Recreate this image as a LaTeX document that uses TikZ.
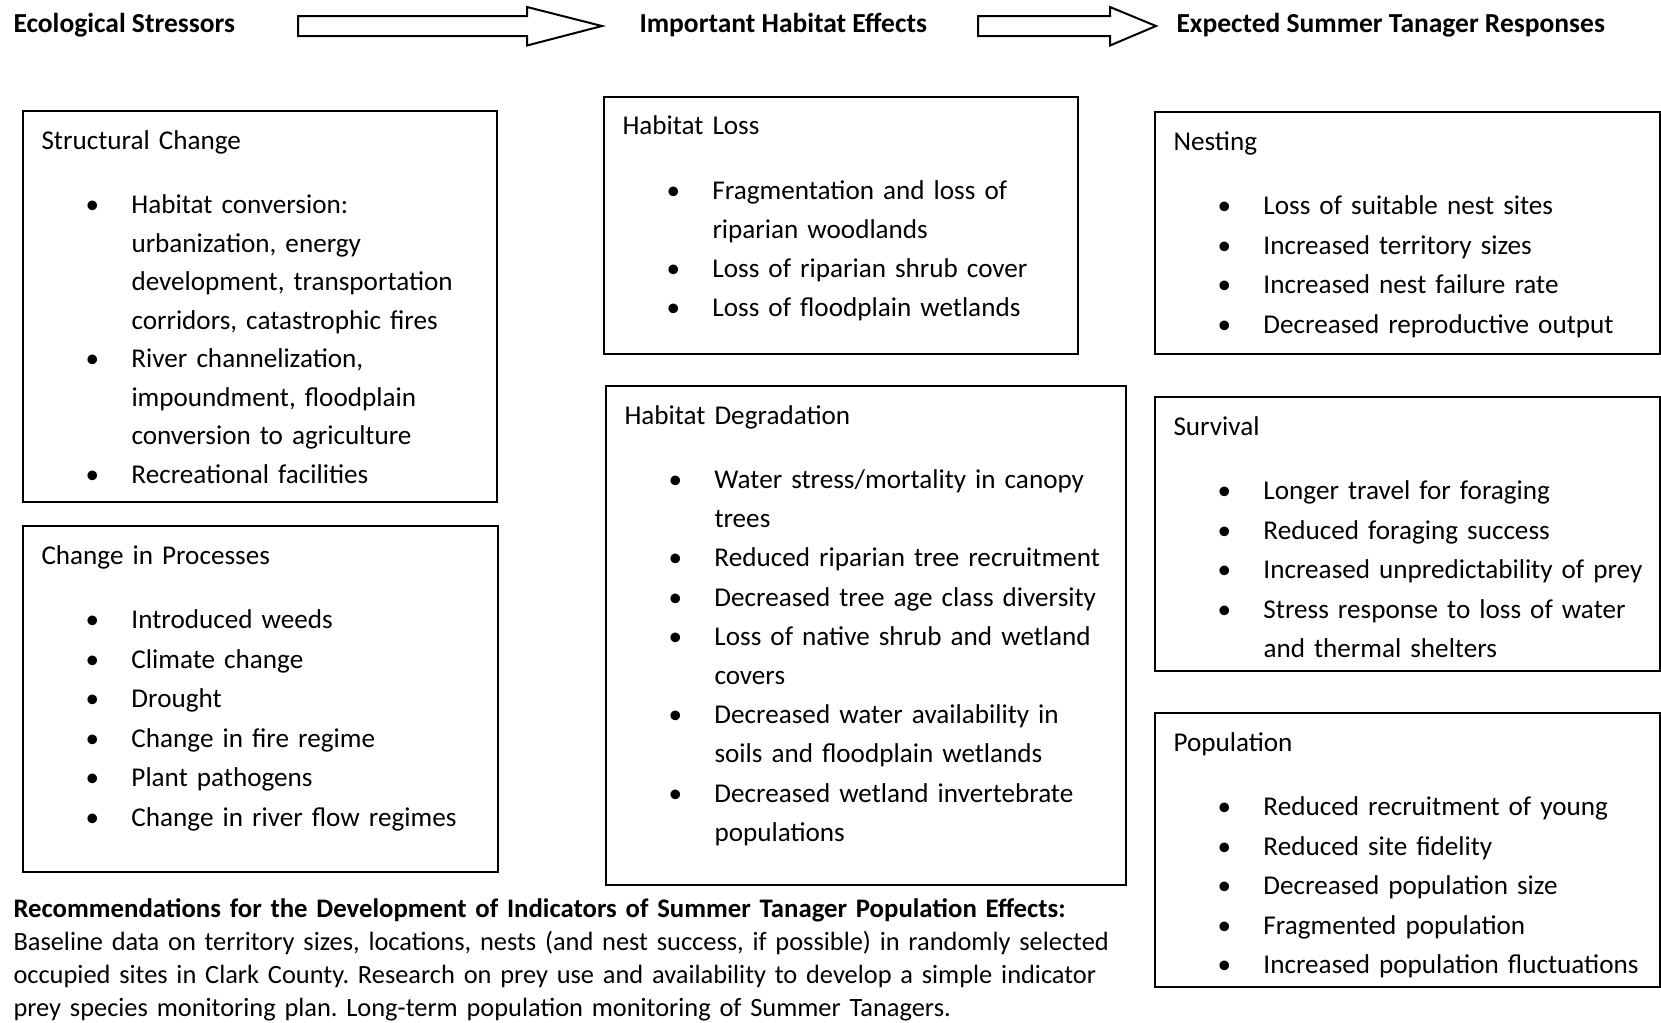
\documentclass[tikz,border=0pt]{standalone}
\usepackage{fontspec}
\setmainfont{Carlito}
\usepackage{graphicx}
\usetikzlibrary{fit}
\frenchspacing

\newcommand{\titlefont}{\fontsize{11}{15.8}\selectfont\bfseries}
\newcommand{\recfont}{\fontsize{10.56}{13.25}\selectfont}
\newcommand{\recbold}{\fontsize{10.71}{13.25}\selectfont\bfseries}
\newcommand{\itm}{\hspace*{20.4pt}\makebox[0pt]{\textbullet}\hspace*{15.6pt}}
\newcommand{\cnt}{\hspace*{36pt}}

\tikzset{
  box/.style={draw, line width=0.8pt, inner sep=0pt},
  boxtext/.style={text width=240pt, align=left, inner sep=0pt, font=\fontsize{10.86}{#1}\selectfont},
  boxtext/.default=15.8pt,
  title/.style={inner sep=0pt, font=\titlefont},
  bigarrow/.style={draw, line width=0.8pt, line join=miter}
}

\begin{document}
\begin{tikzpicture}[x=0.4pt, y=-0.4pt]
\useasboundingbox (0,0) rectangle (1661,1022);

% column titles and arrows
\node[title, anchor=base west] (stress) at (13,32) {Ecological Stressors};
\node[title, anchor=base west] (effects) at (639,32) {Important Habitat Effects};
\node[title, anchor=base west] (resp) at (1176,32) {Expected Summer Tanager Responses};
\draw[bigarrow] (298,16) -- (527,16) -- (527,7) -- (602,26) -- (527,45.5) -- (527,36) -- (298,36) -- cycle;
\draw[bigarrow] (978,16) -- (1110,16) -- (1110,7) -- (1156,26) -- (1110,45.5) -- (1110,36) -- (978,36) -- cycle;

% stressors
\node[box, fit={(23,111) (497,502)}] (strc) {};
\node[boxtext=15.4pt, anchor=base west] (strc-t) at ([shift={(19,39.5)}]strc.north west) {Structural Change\\[10.2pt]
  \itm Habitat conversion:\\ \cnt urbanization, energy\\ \cnt development, transportation\\ \cnt corridors, catastrophic fires\\
  \itm River channelization,\\ \cnt impoundment, floodplain\\ \cnt conversion to agriculture\\
  \itm Recreational facilities};

\node[box, fit={(23,526) (498,872)}] (proc) {};
\node[boxtext, anchor=base west] (proc-t) at ([shift={(19,39.5)}]proc.north west) {Change in Processes\\[9.8pt]
  \itm Introduced weeds\\ \itm Climate change\\ \itm Drought\\ \itm Change in fire regime\\
  \itm Plant pathogens\\ \itm Change in river flow regimes};

% habitat effects
\node[box, fit={(604,97) (1078,354)}] (loss) {};
\node[boxtext=15.5pt, anchor=base west] (loss-t) at ([shift={(19,38.5)}]loss.north west) {Habitat Loss\\[10.6pt]
  \itm Fragmentation and loss of\\ \cnt riparian woodlands\\
  \itm Loss of riparian shrub cover\\ \itm Loss of floodplain wetlands};

\node[box, fit={(606,386) (1126,885)}] (degr) {};
\node[boxtext=15.68pt, anchor=base west] (degr-t) at ([shift={(19,39.5)}]degr.north west) {Habitat Degradation\\[9.9pt]
  \itm Water stress/mortality in canopy\\ \cnt trees\\
  \itm Reduced riparian tree recruitment\\ \itm Decreased tree age class diversity\\
  \itm Loss of native shrub and wetland\\ \cnt covers\\
  \itm Decreased water availability in\\ \cnt soils and floodplain wetlands\\
  \itm Decreased wetland invertebrate\\ \cnt populations};

% responses
\node[box, fit={(1155,112) (1660,354)}] (nest) {};
\node[boxtext, anchor=base west] (nest-t) at ([shift={(19,39.5)}]nest.north west) {Nesting\\[9.8pt]
  \itm Loss of suitable nest sites\\ \itm Increased territory sizes\\
  \itm Increased nest failure rate\\ \itm Decreased reproductive output};

\node[box, fit={(1155,397) (1660,671)}] (surv) {};
\node[boxtext, anchor=base west] (surv-t) at ([shift={(19,39.5)}]surv.north west) {Survival\\[9.8pt]
  \itm Longer travel for foraging\\ \itm Reduced foraging success\\
  \itm Increased unpredictability of prey\\ \itm Stress response to loss of water\\ \cnt and thermal shelters};

\node[box, fit={(1155,713) (1660,987)}] (popu) {};
\node[boxtext, anchor=base west] (popu-t) at ([shift={(19,39.5)}]popu.north west) {Population\\[9.8pt]
  \itm Reduced recruitment of young\\ \itm Reduced site fidelity\\
  \itm Decreased population size\\ \itm Fragmented population\\ \itm Increased population fluctuations};

% recommendations
\node[boxtext, text width=470pt, font=\recfont, anchor=base west] (recs) at (13,917) {{\recbold Recommendations for the Development of Indicators of Summer Tanager Population Effects:}\\
  Baseline data on territory sizes, locations, nests (and nest success, if possible) in randomly selected\\
  occupied sites in Clark County. Research on prey use and availability to develop a simple indicator\\
  prey species monitoring plan. Long-term population monitoring of Summer Tanagers.};
\end{tikzpicture}
\end{document}
